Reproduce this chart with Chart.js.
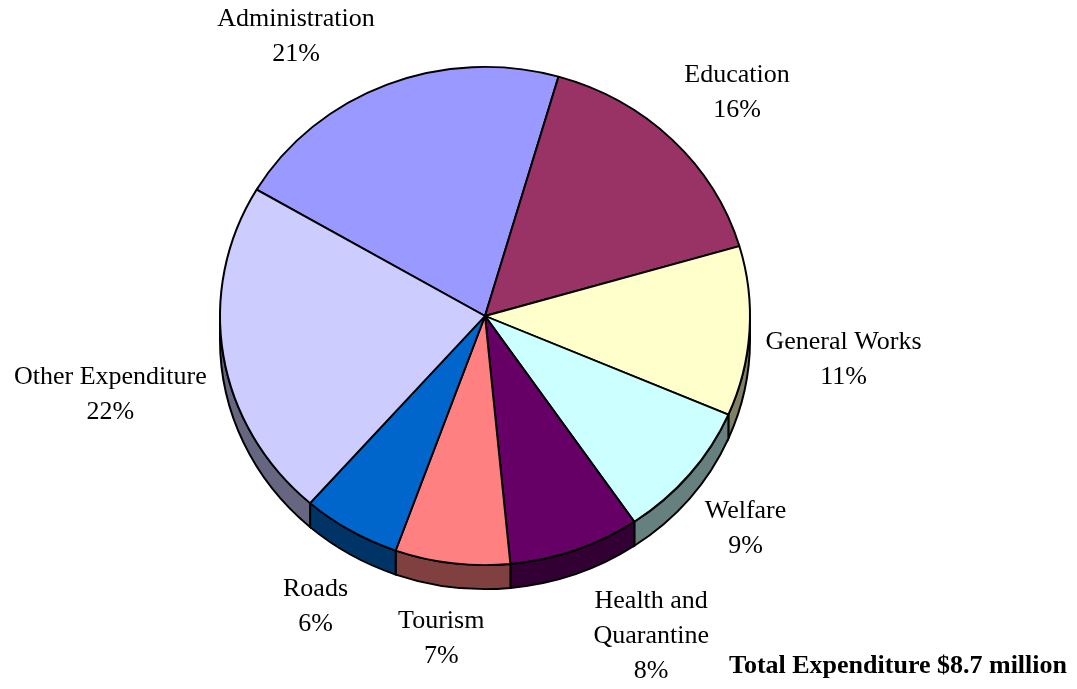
<!DOCTYPE html>
<html>
<head>
<meta charset="utf-8">
<title>Expenditure</title>
<script src="https://cdn.jsdelivr.net/npm/chart.js@4.4.1/dist/chart.umd.min.js"></script>
<style>
  html, body { margin: 0; padding: 0; background: #fff; }
  canvas { display: block; }
</style>
</head>
<body>
<canvas id="pie" width="1077" height="689"></canvas>
<script>
// ---- data ----
const categories = ["Administration", "Education", "General Works", "Welfare",
                    "Health and Quarantine", "Tourism", "Roads", "Other Expenditure"];
const shares = [21, 16, 11, 9, 8, 7, 6, 22];
// how each category name is broken into lines
const labelLines = [["Administration"], ["Education"], ["General Works"], ["Welfare"],
                    ["Health and", "Quarantine"], ["Tourism"], ["Roads"], ["Other Expenditure"]];
const totalNote = "Total Expenditure $8.7 million";

// ---- look ----
const faceColors = ["#9999FF", "#993366", "#FFFFCC", "#CCFFFF", "#660066", "#FF8080", "#0066CC", "#CCCCFF"];
const sideColors = ["#4D4D80", "#4D1A33", "#808066", "#668080", "#330033", "#804040", "#003366", "#666680"];
// label offset from the rim point at each slice's mid angle
const labelShift = [[-91, -48], [65, -47], [94, 28], [56, 54], [76, 86], [-11, 75], [-35, 76], [-113, 39]];
const tilt = 0.94;     // vertical squash of the pie top
const depth = 24;      // thickness of the pie edge, px
const lineGap = 35;
const serif = '"Liberation Serif", "Times New Roman", serif';

// squash the pie and paint the darker edge underneath it
const pie3d = {
    id: "pie3d",
    beforeDatasetsDraw(chart) {
        const ctx = chart.ctx;
        const arcs = chart.getDatasetMeta(0).data;
        const cx = arcs[0].x, cy = arcs[0].y;
        ctx.save();
        ctx.translate(cx, cy);
        ctx.scale(1, tilt);
        ctx.translate(-cx, -cy);

        const d = depth / tilt;
        const TAU = Math.PI * 2;
        arcs.forEach((arc, i) => {
            const r = arc.outerRadius;
            [-TAU, 0, TAU].forEach(k => {
                const lo = Math.max(arc.startAngle + k, 0);
                const hi = Math.min(arc.endAngle + k, Math.PI);
                if (hi <= lo) return;
                ctx.beginPath();
                ctx.arc(cx, cy, r, lo, hi);
                ctx.arc(cx, cy + d, r, hi, lo, true);
                ctx.closePath();
                ctx.fillStyle = sideColors[i];
                ctx.fill();
                ctx.lineWidth = 2;
                ctx.strokeStyle = "#000";
                ctx.stroke();
            });
        });
    },
    afterDatasetsDraw(chart) {
        chart.ctx.restore();
    },
    afterDraw(chart) {
        const ctx = chart.ctx;
        const arcs = chart.getDatasetMeta(0).data;
        ctx.save();
        ctx.fillStyle = "#000";
        ctx.font = "26px " + serif;
        ctx.textAlign = "center";
        ctx.textBaseline = "middle";
        arcs.forEach((arc, i) => {
            const mid = (arc.startAngle + arc.endAngle) / 2;
            const ax = arc.x + arc.outerRadius * Math.cos(mid);
            const ay = arc.y + arc.outerRadius * tilt * Math.sin(mid);
            const lines = labelLines[i].concat(shares[i] + "%");
            const lx = ax + labelShift[i][0];
            const top = ay + labelShift[i][1] - (lines.length - 1) * lineGap / 2;
            lines.forEach((t, j) => ctx.fillText(t, lx, top + j * lineGap));
        });

        ctx.font = "bold 26px " + serif;
        ctx.textAlign = "right";
        ctx.textBaseline = "alphabetic";
        ctx.fillText(totalNote, 1067, 673);
        ctx.restore();
    }
};

new Chart(document.getElementById("pie"), {
    type: "pie",
    data: {
        labels: categories,
        datasets: [{
            data: shares,
            backgroundColor: faceColors,
            borderColor: "#000",
            borderWidth: 2,
            radius: 265,
            clip: false
        }]
    },
    options: {
        responsive: false,
        animation: false,
        events: [],
        rotation: -59.5,
        layout: { padding: { left: 220, right: 327, top: 51, bottom: 108 } },
        plugins: {
            legend: { display: false },
            tooltip: { enabled: false }
        }
    },
    plugins: [pie3d]
});
</script>
</body>
</html>
